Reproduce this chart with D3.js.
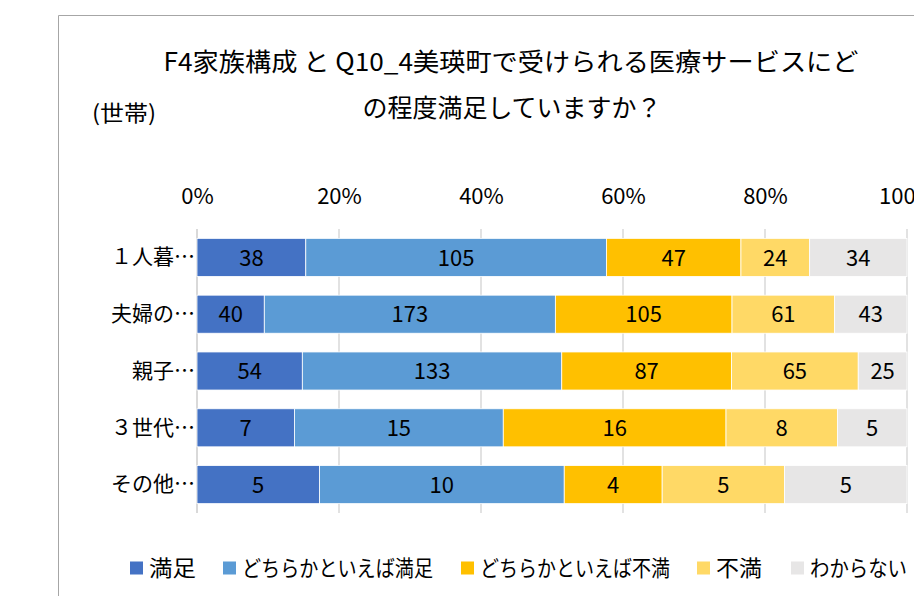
<!DOCTYPE html>
<html>
<head>
  <meta charset="utf-8">
  <script src="https://cdn.jsdelivr.net/npm/d3@7"></script>
  <style>
    body { margin: 0; background: #fff; }
    text { font-family: "Noto Sans CJK JP", "Noto Sans", sans-serif; fill: #000; }
  </style>
</head>
<body>
  <svg width="914" height="596" id="mainsvg"></svg>
  <script>
    const svg = d3.select('#mainsvg');

    // data
    const categories = ['１人暮…', '夫婦の…', '親子…', '３世代…', 'その他…'];
    const seriesNames = ['満足', 'どちらかといえば満足', 'どちらかといえば不満', '不満', 'わからない'];
    const manzoku = [38, 40, 54, 7, 5];
    const yaya_manzoku = [105, 173, 133, 15, 10];
    const yaya_fuman = [47, 105, 87, 16, 4];
    const fuman = [24, 61, 65, 8, 5];
    const wakaranai = [34, 43, 25, 5, 5];
    const tickLabels = ['0%', '20%', '40%', '60%', '80%', '100%'];
    const colors = ['#4472C4', '#5B9BD5', '#FFC000', '#FFD966', '#E7E6E6'];

    const seriesValues = [manzoku, yaya_manzoku, yaya_fuman, fuman, wakaranai];
    const rows = categories.map((c, i) => {
      const r = { cat: c };
      seriesNames.forEach((s, k) => r[s] = seriesValues[k][i]);
      return r;
    });

    // chart frame (runs off the right / bottom edge like the screenshot)
    svg.append('path')
      .attr('d', 'M58.5,596 V15.5 H914')
      .attr('fill', 'none').attr('stroke', '#a6a6a6').attr('stroke-width', 1);

    // title (Meiryo UI is narrower than Noto, so fit widths)
    const title = svg.append('text').attr('text-anchor', 'middle').attr('font-size', 25);
    title.append('tspan').attr('x', 511).attr('y', 71)
      .attr('textLength', 695).attr('lengthAdjust', 'spacingAndGlyphs')
      .text('F4家族構成 と Q10_4美瑛町で受けられる医療サービスにど');
    title.append('tspan').attr('x', 512).attr('y', 117)
      .attr('textLength', 299).attr('lengthAdjust', 'spacingAndGlyphs')
      .text('の程度満足していますか？');

    svg.append('text').attr('x', 92).attr('y', 121).attr('font-size', 22)
      .attr('textLength', 64).attr('lengthAdjust', 'spacingAndGlyphs').text('(世帯)');

    const x = d3.scaleLinear().domain([0, 1]).range([197, 907]);
    const y = d3.scaleBand().domain(categories).range([229, 513]).paddingInner(0.33).paddingOuter(0.165);

    // gridlines
    svg.append('g').selectAll('line').data(d3.range(0, 1.01, 0.2)).join('line')
      .attr('x1', d => x(d)).attr('x2', d => x(d))
      .attr('y1', 229).attr('y2', 513)
      .attr('stroke', '#d9d9d9').attr('stroke-width', d => d === 0 ? 2 : 1.5);

    // top axis labels
    const xAxis = d3.axisTop(x).tickValues(d3.range(0, 1.01, 0.2))
      .tickFormat((d, i) => tickLabels[i]).tickSize(0).tickPadding(0);
    const ax = svg.append('g').attr('transform', 'translate(0,204)').call(xAxis);
    ax.select('.domain').remove();
    ax.selectAll('text').attr('font-size', 22).attr('font-family', '"Noto Sans CJK JP", sans-serif')
      .attr('dy', 0);

    // category labels
    const yAxis = d3.axisLeft(y).tickSize(0).tickPadding(2);
    const ay = svg.append('g').attr('transform', 'translate(197,0)').call(yAxis);
    ay.select('.domain').remove();
    ay.selectAll('text').attr('font-size', 21).attr('font-family', '"Noto Sans CJK JP", sans-serif');

    // stacked, normalised to 100%
    const stack = d3.stack().keys(seriesNames).offset(d3.stackOffsetExpand)(rows);

    const groups = svg.append('g').selectAll('g').data(stack).join('g')
      .attr('fill', (d, i) => colors[i]);

    groups.selectAll('rect').data(d => d).join('rect')
      .attr('x', d => x(d[0]))
      .attr('width', d => x(d[1]) - x(d[0]))
      .attr('y', d => y(d.data.cat))
      .attr('height', y.bandwidth())
      .attr('stroke', '#fff').attr('stroke-width', 0.8);

    groups.each(function (s) {
      d3.select(this).selectAll('text.val').data(s).join('text').attr('class', 'val')
        .attr('x', d => (x(d[0]) + x(d[1])) / 2)
        .attr('y', d => y(d.data.cat) + y.bandwidth() / 2)
        .attr('dy', '0.37em')
        .attr('text-anchor', 'middle')
        .attr('font-size', 22)
        .text(d => d.data[s.key]);
    });

    // legend
    const legendX = [130, 223, 461, 697, 791];
    const legendW = [47, 191, 190, 46, 97];
    const leg = svg.append('g').selectAll('g').data(seriesNames).join('g')
      .attr('transform', (d, i) => `translate(${legendX[i]},568)`);
    leg.append('rect').attr('x', 0).attr('y', -6.5).attr('width', 13).attr('height', 13)
      .attr('fill', (d, i) => colors[i]);
    leg.append('text').attr('x', 19).attr('dy', '0.36em').attr('font-size', 22)
      .attr('textLength', (d, i) => legendW[i]).attr('lengthAdjust', 'spacingAndGlyphs')
      .text(d => d);
  </script>
</body>
</html>
